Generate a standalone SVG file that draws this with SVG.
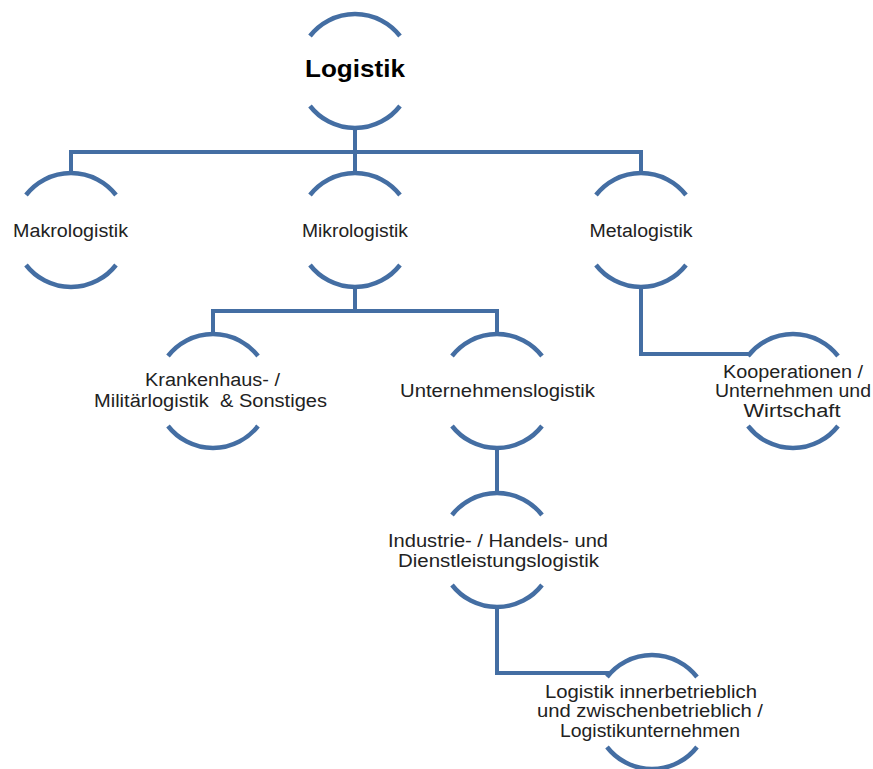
<svg xmlns="http://www.w3.org/2000/svg" width="873" height="769" viewBox="0 0 873 769">
  <style>
    .arc { fill: none; stroke: #446ea3; stroke-width: 4.5; }
    .wire { fill: none; stroke: #446ea3; stroke-width: 4; stroke-linejoin: miter; }
    .lbl { font-family: "Liberation Sans", Arial, sans-serif; font-size: 18px; fill: #222; text-anchor: middle; }
    .title { font-size: 24px; font-weight: bold; fill: #000; }
  </style>
  <rect width="873" height="769" fill="#fff"/>

  <!-- connectors -->
  <g id="connectors" class="wire">
    <path d="M355,128 V152 M71,173 V152 H641 V173 M355,152 V173"/>
    <path d="M355,287 V311 M213,334 V311 H497 V334"/>
    <path d="M641,287 V354 H750"/>
    <path d="M497,448 V493"/>
    <path d="M497,607 V673 H609"/>
  </g>

  <!-- nodes: each drawn as an open circle (top and bottom arcs) with a centred label -->
  <g id="logistik">
    <path class="arc" d="M310,36 A57 57 0 0 1 400,36 M310,106 A57 57 0 0 0 400,106"/>
    <text class="lbl title" x="355" y="77" textLength="100" lengthAdjust="spacingAndGlyphs">Logistik</text>
  </g>

  <g id="makrologistik">
    <path class="arc" d="M26,195 A57 57 0 0 1 116,195 M26,265 A57 57 0 0 0 116,265"/>
    <text class="lbl" x="70.5" y="237" textLength="115" lengthAdjust="spacingAndGlyphs">Makrologistik</text>
  </g>

  <g id="mikrologistik">
    <path class="arc" d="M310,195 A57 57 0 0 1 400,195 M310,265 A57 57 0 0 0 400,265"/>
    <text class="lbl" x="355" y="237" textLength="106" lengthAdjust="spacingAndGlyphs">Mikrologistik</text>
  </g>

  <g id="metalogistik">
    <path class="arc" d="M596,195 A57 57 0 0 1 686,195 M596,265 A57 57 0 0 0 686,265"/>
    <text class="lbl" x="641" y="237" textLength="103" lengthAdjust="spacingAndGlyphs">Metalogistik</text>
  </g>

  <g id="krankenhauslogistik">
    <path class="arc" d="M168,356 A57 57 0 0 1 258,356 M168,426 A57 57 0 0 0 258,426"/>
    <text class="lbl" x="212.5" y="386" textLength="135" lengthAdjust="spacingAndGlyphs">Krankenhaus- /</text>
    <text class="lbl" x="210.5" y="407" textLength="233" lengthAdjust="spacingAndGlyphs" xml:space="preserve">Militärlogistik  &amp; Sonstiges</text>
  </g>

  <g id="unternehmenslogistik">
    <path class="arc" d="M452,356 A57 57 0 0 1 542,356 M452,426 A57 57 0 0 0 542,426"/>
    <text class="lbl" x="497.5" y="397" textLength="195" lengthAdjust="spacingAndGlyphs">Unternehmenslogistik</text>
  </g>

  <g id="kooperationen">
    <path class="arc" d="M748,356 A57 57 0 0 1 838,356 M748,426 A57 57 0 0 0 838,426"/>
    <text class="lbl" x="793" y="378" textLength="140" lengthAdjust="spacingAndGlyphs">Kooperationen /</text>
    <text class="lbl" x="793" y="397" textLength="156" lengthAdjust="spacingAndGlyphs">Unternehmen und</text>
    <text class="lbl" x="792" y="417" textLength="97" lengthAdjust="spacingAndGlyphs">Wirtschaft</text>
  </g>

  <g id="industrielogistik">
    <path class="arc" d="M452,515 A57 57 0 0 1 542,515 M452,585 A57 57 0 0 0 542,585"/>
    <text class="lbl" x="498" y="547" textLength="220" lengthAdjust="spacingAndGlyphs">Industrie- / Handels- und</text>
    <text class="lbl" x="498.5" y="567" textLength="201" lengthAdjust="spacingAndGlyphs">Dienstleistungslogistik</text>
  </g>

  <g id="betriebslogistik">
    <path class="arc" d="M607,677 A57 57 0 0 1 697,677 M607,747 A57 57 0 0 0 697,747"/>
    <text class="lbl" x="651" y="698" textLength="212" lengthAdjust="spacingAndGlyphs">Logistik innerbetrieblich</text>
    <text class="lbl" x="650" y="717" textLength="226" lengthAdjust="spacingAndGlyphs">und zwischenbetrieblich /</text>
    <text class="lbl" x="650" y="737" textLength="180" lengthAdjust="spacingAndGlyphs">Logistikunternehmen</text>
  </g>
</svg>
